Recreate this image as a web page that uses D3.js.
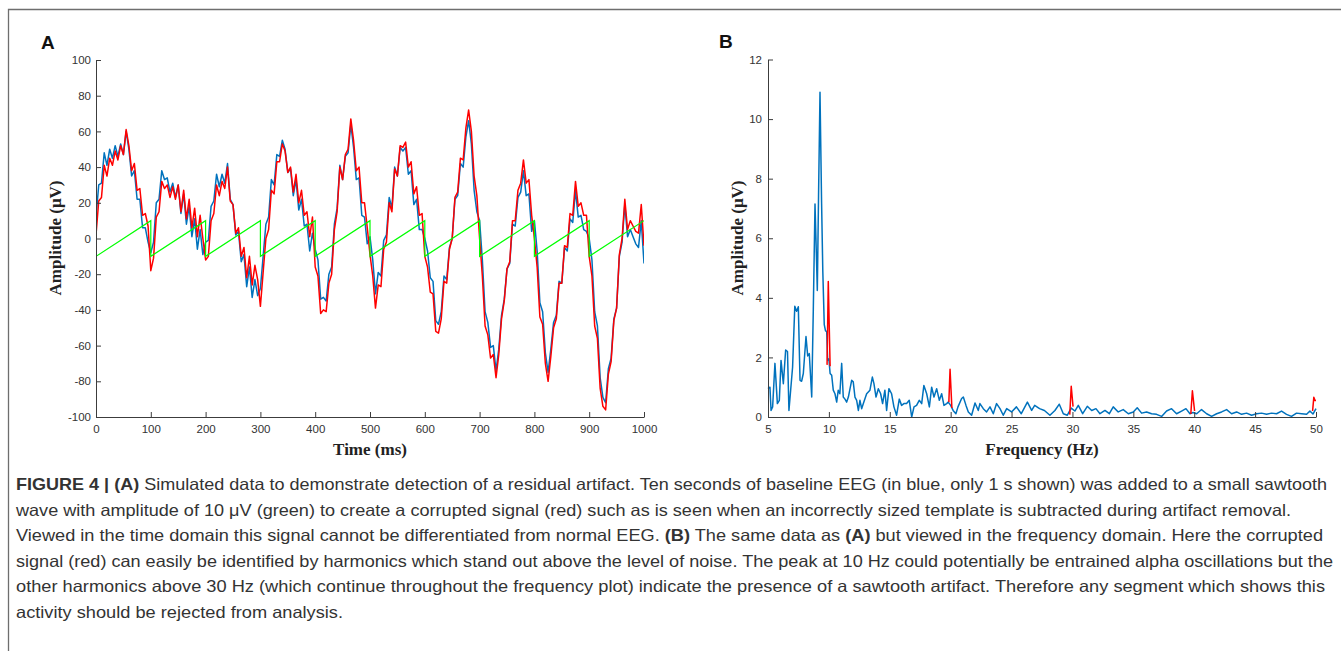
<!DOCTYPE html>
<html><head><meta charset="utf-8">
<script src="https://cdn.jsdelivr.net/npm/d3@7"></script>
<style>
html,body{margin:0;padding:0;background:#fff;}
svg{display:block;}
</style></head>
<body>
<script>
// ---------- Panel A data (time domain, 5 ms steps) ----------
const timeMs = d3.range(0, 1001, 5);
const baselineEEG = [
12,30,31,48,41,50,45,52,46,53,47,60,50,35,38,22,22,6,6,-2,
-8,-2,20,22,38,33,34,26,31,23,30,14,25,8,18,1,11,-6,5,-9,
-2,-1,18,21,36,29,36,31,42,22,19,2,4,-13,-9,-27,-16,-33,-23,-32,
-28,-10,8,12,33,30,47,46,55,50,37,39,24,33,16,22,7,8,-7,3,
-6,-12,-34,-33,-35,-20,-16,8,17,41,33,46,48,64,51,33,34,13,12,-3,
1,-12,-31,-19,-21,-1,2,23,17,40,35,51,49,51,36,38,19,22,5,5,
0,-7,-22,-24,-46,-48,-41,-21,-23,-5,0,22,24,42,40,57,66,53,27,15,
10,-12,-41,-47,-61,-60,-74,-62,-43,-34,-17,-14,8,7,23,26,38,24,25,4,
10,-7,-36,-41,-64,-75,-62,-47,-43,-24,-25,-5,-7,11,9,27,12,13,5,4,
0,-12,-41,-49,-78,-89,-92,-73,-67,-45,-39,-10,-2,19,1,5,1,-3,-5,10,
-14];
const corruptedSignal = [
2,21,23,41,35,45,41,49,44,52,47,61,52,38,42,27,28,13,14,7,
-18,-11,12,15,32,28,30,23,29,22,30,15,27,11,22,6,17,1,13,0,
-12,-10,10,14,30,24,32,28,40,21,19,3,6,-10,-5,-22,-10,-26,-15,-23,
-38,-19,0,5,27,25,43,43,53,49,37,40,26,36,20,27,13,15,1,12,
-16,-21,-42,-40,-41,-25,-20,5,15,40,33,47,50,67,55,38,40,20,20,6,
-9,-21,-39,-26,-27,-6,-2,20,15,39,35,52,51,54,40,43,25,29,13,14,
-10,-16,-30,-31,-52,-53,-45,-24,-25,-6,0,23,26,45,44,62,72,60,35,24,
0,-21,-49,-54,-67,-65,-78,-65,-45,-35,-17,-13,10,10,27,31,44,31,33,13,
0,-16,-44,-48,-70,-80,-66,-50,-45,-25,-25,-4,-5,14,13,32,18,20,13,13,
-10,-21,-49,-56,-84,-94,-96,-76,-69,-46,-39,-9,0,22,5,10,7,4,3,19,
-4];
const sawTime = [0,100,100,200,200,300,300,400,400,500,500,600,600,700,700,800,800,900,900,1000];
const sawValue = [-10,10,-10,10,-10,10,-10,10,-10,10,-10,10,-10,10,-10,10,-10,10,-10,10];
const timeTicks = [0,100,200,300,400,500,600,700,800,900,1000];
const ampTicksA = [-100,-80,-60,-40,-20,0,20,40,60,80,100];

// ---------- Panel B data (frequency domain) ----------
const freqHz = [
5.0,5.16,5.25,5.38,5.57,5.77,5.93,6.07,6.26,6.45,6.6,6.72,6.86,7.02,7.2,7.35,7.49,7.63,7.76,7.9,
8.12,8.26,8.39,8.59,8.72,8.86,8.97,9.05,9.15,9.27,9.4,9.5,9.62,9.72,9.82,9.9,10.0,10.1,10.23,10.36,
10.5,10.64,10.77,10.9,11.05,11.18,11.32,11.46,11.6,11.87,12.0,12.14,12.28,12.42,12.55,12.69,12.83,13.1,13.37,13.57,
13.7,13.87,14.06,14.25,14.41,14.6,14.74,14.93,15.15,15.34,15.56,15.78,15.97,16.16,16.38,16.6,16.8,16.99,17.2,17.42,
17.62,17.8,18.03,18.25,18.44,18.63,18.85,19.07,19.26,19.45,19.67,19.8,20.0,20.2,20.43,20.6,20.9,21.04,21.26,21.45,
21.72,22.0,22.27,22.4,22.68,22.95,23.23,23.5,23.77,24.05,24.32,24.6,25.0,25.4,25.8,26.3,26.65,26.9,27.3,27.7,
28.15,28.56,28.92,29.25,29.58,29.9,30.2,30.48,30.84,31.22,31.58,31.93,32.26,32.67,33.03,33.35,33.76,34.17,34.59,35.0,
35.32,35.68,36.09,36.5,36.91,37.32,37.73,38.14,38.55,38.96,39.32,39.65,39.9,40.2,40.6,41.02,41.43,41.84,42.25,42.66,
43.07,43.48,43.89,44.3,44.71,45.12,45.53,45.94,46.35,46.76,47.17,47.58,47.99,48.4,48.82,49.23,49.5,49.75,50.0];
const eegSpectrum = [
0.95,1.0,0.22,0.34,1.8,0.45,0.56,1.9,1.12,2.25,2.2,0.22,0.9,1.68,3.72,3.55,3.7,1.23,1.2,1.46,
2.7,2.05,2.13,0.67,3.6,7.15,5.5,4.25,7.4,10.9,7.2,4.9,3.1,2.9,2.86,1.9,1.95,1.46,1.4,0.9,
0.78,0.5,0.9,0.78,1.8,0.67,0.6,0.5,0.67,1.23,1.18,0.67,0.56,0.22,0.56,0.28,0.45,0.78,0.9,1.34,
1.12,0.67,0.95,0.78,0.45,0.9,0.22,0.95,0.78,0.34,0.06,0.6,0.39,0.45,0.45,0.56,0.0,0.34,0.39,0.56,
0.45,1.06,0.78,0.34,1.0,0.67,0.95,0.56,0.78,0.39,0.45,0.5,0.39,0.22,0.11,0.34,0.62,0.67,0.39,0.17,
0.06,0.47,0.22,0.45,0.28,0.17,0.34,0.11,0.45,0.28,0.06,0.28,0.17,0.34,0.11,0.5,0.22,0.39,0.28,0.22,
0.06,0.22,0.43,0.11,0.06,0.3,0.2,0.39,0.11,0.36,0.22,0.28,0.11,0.22,0.11,0.34,0.17,0.25,0.11,0.17,
0.31,0.13,0.17,0.11,0.09,0.02,0.2,0.28,0.11,0.2,0.28,0.11,0.15,0.11,0.25,0.11,0.02,0.11,0.17,0.25,
0.11,0.17,0.09,0.13,0.06,0.11,0.13,0.09,0.13,0.11,0.2,0.09,0.02,0.13,0.11,0.09,0.2,0.1,0.28];
// harmonic peaks of the corrupted signal (segments separated by null)
const harmFreq = [9.85,9.95,10.1,null,19.85,19.95,20.1,null,29.78,29.9,30.05,null,39.72,39.85,40.03,null,49.72,49.82,49.92,50.0];
const harmAmp  = [1.75,4.55,1.7,null,0.5,1.6,0.3,null,0.08,1.03,0.35,null,0.1,0.88,0.2,null,0.2,0.66,0.55,0.55];
const freqTicks = [5,10,15,20,25,30,35,40,45,50];
const ampTicksB = [0,2,4,6,8,10,12];

const captionLines = [
  [["FIGURE 4 | (A)",true],[" Simulated data to demonstrate detection of a residual artifact. Ten seconds of baseline EEG (in blue, only 1 s shown) was added to a small sawtooth",false]],
  [["wave with amplitude of 10 \u03bcV (green) to create a corrupted signal (red) such as is seen when an incorrectly sized template is subtracted during artifact removal.",false]],
  [["Viewed in the time domain this signal cannot be differentiated from normal EEG. ",false],["(B)",true],[" The same data as ",false],["(A)",true],[" but viewed in the frequency domain. Here the corrupted",false]],
  [["signal (red) can easily be identified by harmonics which stand out above the level of noise. The peak at 10 Hz could potentially be entrained alpha oscillations but the",false]],
  [["other harmonics above 30 Hz (which continue throughout the frequency plot) indicate the presence of a sawtooth artifact. Therefore any segment which shows this",false]],
  [["activity should be rejected from analysis.",false]]
];
const captionEnds = [1327,1291,1323,1333,1325,343];

// ---------- drawing ----------
const W = 1341, H = 651;
const svg = d3.select("body").append("svg").attr("width", W).attr("height", H);
svg.append("rect").attr("width", W).attr("height", H).attr("fill", "#fff");
// figure frame
svg.append("path").attr("d", `M8.5,${H+5} V9.5 H${W+5}`).attr("fill","none").attr("stroke","#6e6e6e").attr("stroke-width",1.3);

const axisColor = "#3c3c3c";
const tickFont = "'Liberation Sans', Arial, sans-serif";
function styleAxis(g){
  g.select(".domain").attr("stroke", axisColor).attr("stroke-width", 1);
  g.selectAll(".tick line").attr("stroke", axisColor).attr("stroke-width", 1);
  g.selectAll(".tick text").attr("fill", "#333").attr("font-size", "11.5px").attr("font-family", tickFont);
}
const plainFmt = d => String(d);

// ---- Panel A ----
const xA = d3.scaleLinear().domain([0, 1000]).range([96, 644]);
const yA = d3.scaleLinear().domain([-100, 100]).range([417, 60]);
svg.append("defs").append("clipPath").attr("id","clipA").append("rect")
  .attr("x", 96).attr("y", 60).attr("width", 548).attr("height", 357);
const gA = svg.append("g");
const lineA = d3.line().x(d => xA(d[0])).y(d => yA(d[1]));
const plotA = gA.append("g").attr("clip-path","url(#clipA)");
plotA.append("path").datum(timeMs.map((t,i)=>[t, baselineEEG[i]]))
  .attr("d", lineA).attr("fill","none").attr("stroke","#0072BD").attr("stroke-width",1.5).attr("stroke-linejoin","round");
plotA.append("path").datum(timeMs.map((t,i)=>[t, corruptedSignal[i]]))
  .attr("d", lineA).attr("fill","none").attr("stroke","#FF0000").attr("stroke-width",1.5).attr("stroke-linejoin","round");
plotA.append("path").datum(sawTime.map((t,i)=>[t, sawValue[i]]))
  .attr("d", lineA).attr("fill","none").attr("stroke","#00FF00").attr("stroke-width",1.2);

gA.append("g").attr("transform","translate(0,417)")
  .call(d3.axisBottom(xA).tickValues(timeTicks).tickFormat(plainFmt).tickSize(-5).tickSizeOuter(0).tickPadding(8))
  .call(styleAxis);
gA.append("g").attr("transform","translate(96,0)")
  .call(d3.axisLeft(yA).tickValues(ampTicksA).tickFormat(plainFmt).tickSize(-5).tickSizeOuter(0).tickPadding(5))
  .call(styleAxis);
gA.append("text").attr("x", 370).attr("y", 455).attr("text-anchor","middle")
  .attr("font-family","'Liberation Serif','Times New Roman',serif").attr("font-weight","bold").attr("font-size","17px")
  .attr("fill","#222").text("Time (ms)");
gA.append("text").attr("transform","translate(61,238) rotate(-90)").attr("text-anchor","middle")
  .attr("font-family","'Liberation Serif','Times New Roman',serif").attr("font-weight","bold").attr("font-size","17px")
  .attr("fill","#222").text("Amplitude (\u03bcV)");
gA.append("text").attr("x", 41).attr("y", 49).attr("font-family","'Liberation Sans',Arial,sans-serif")
  .attr("font-weight","bold").attr("font-size","19px").attr("fill","#111").text("A");

// ---- Panel B ----
const xB = d3.scaleLinear().domain([5, 50]).range([768, 1316]);
const yB = d3.scaleLinear().domain([0, 12]).range([417, 59.5]);
const gB = svg.append("g");
const lineB = d3.line().defined(d => d[0] != null && d[1] != null).x(d => xB(d[0])).y(d => yB(d[1]));
gB.append("path").datum(freqHz.map((f,i)=>[f, eegSpectrum[i]]))
  .attr("d", lineB).attr("fill","none").attr("stroke","#0072BD").attr("stroke-width",1.5).attr("stroke-linejoin","round");
gB.append("path").datum(harmFreq.map((f,i)=>[f, harmAmp[i]]))
  .attr("d", lineB).attr("fill","none").attr("stroke","#FF0000").attr("stroke-width",1.5).attr("stroke-linejoin","round");
gB.append("g").attr("transform","translate(0,417)")
  .call(d3.axisBottom(xB).tickValues(freqTicks).tickFormat(plainFmt).tickSize(-5).tickSizeOuter(0).tickPadding(8))
  .call(styleAxis);
gB.append("g").attr("transform","translate(768,0)")
  .call(d3.axisLeft(yB).tickValues(ampTicksB).tickFormat(plainFmt).tickSize(-5).tickSizeOuter(0).tickPadding(6))
  .call(styleAxis);
gB.append("text").attr("x", 1042).attr("y", 455).attr("text-anchor","middle")
  .attr("font-family","'Liberation Serif','Times New Roman',serif").attr("font-weight","bold").attr("font-size","17px")
  .attr("fill","#222").text("Frequency (Hz)");
gB.append("text").attr("transform","translate(743,238) rotate(-90)").attr("text-anchor","middle")
  .attr("font-family","'Liberation Serif','Times New Roman',serif").attr("font-weight","bold").attr("font-size","17px")
  .attr("fill","#222").text("Amplitude (\u03bcV)");
gB.append("text").attr("x", 719).attr("y", 48).attr("font-family","'Liberation Sans',Arial,sans-serif")
  .attr("font-weight","bold").attr("font-size","19px").attr("fill","#111").text("B");

// ---- Caption ----
const cap = svg.append("g");
captionLines.forEach((parts, i) => {
  const t = cap.append("text").attr("x", 16).attr("y", 490 + i*25.5)
    .attr("font-family","'Liberation Sans',Arial,sans-serif")
    .attr("font-size","16.5px").attr("fill","#333")
    .attr("textLength", captionEnds[i] - 16).attr("lengthAdjust","spacingAndGlyphs");
  parts.forEach(([s,b]) => t.append("tspan").attr("font-weight", b ? "bold" : "normal").text(s));
});
</script>
</body></html>
